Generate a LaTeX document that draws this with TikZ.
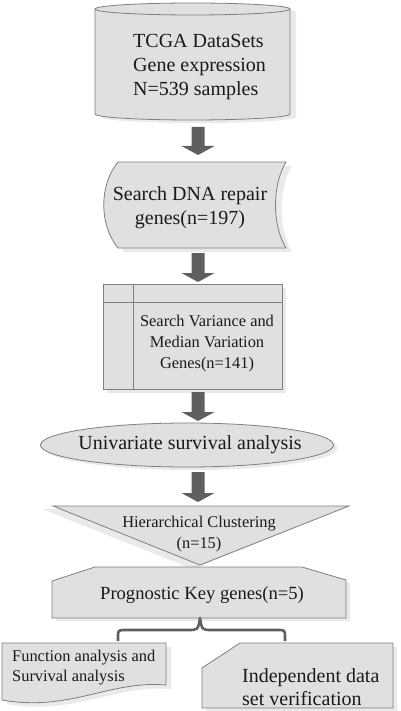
\documentclass[tikz,border=0pt]{standalone}
\usepackage{fontspec}
\setmainfont{Liberation Serif}
\usetikzlibrary{calc}
\definecolor{boxfill}{HTML}{E0E0E0}
\definecolor{shadowfill}{HTML}{EAEAEA}
\definecolor{edgegray}{HTML}{7F7F7F}
\definecolor{arrowfill}{HTML}{5F5F5F}
\definecolor{ink}{HTML}{1A1A1A}
\newcommand\blockarr[2]{\fill[arrowfill] ($(#1)+(-6.5,0)$) -- ($(#2)+(-6.5,9)$) -- ($(#2)+(-16.5,9)$) -- (#2) -- ($(#2)+(16.5,9)$) -- ($(#2)+(6.5,9)$) -- ($(#1)+(6.5,0)$) -- cycle;}
\begin{document}
\begin{tikzpicture}[x=1pt,y=1pt,
  box/.style={fill=boxfill, draw=edgegray, line width=0.8pt},
  shadowbox/.style={fill=shadowfill},
  txt/.style={text=ink, inner sep=0pt},
  big/.style={font=\fontsize{20}{24}\selectfont},
  mid/.style={font=\fontsize{16.4}{21}\selectfont}]
\useasboundingbox[fill=white] (0,0) rectangle (400,-711);

% 1 cylinder
\fill[shadowbox] (101,-12) -- (101,-117) arc[start angle=180,end angle=360,x radius=97.5,y radius=6] -- (296,-12) arc[start angle=0,end angle=180,x radius=97.5,y radius=6] -- cycle;
\filldraw[box] (95,-9) -- (95,-114) arc[start angle=180,end angle=360,x radius=97.5,y radius=6] -- (290,-9) arc[start angle=0,end angle=180,x radius=97.5,y radius=6] -- cycle;
\draw[draw=edgegray, line width=0.8pt] (95,-9) arc[start angle=180,end angle=360,x radius=97.5,y radius=6];
\node[txt, big, anchor=west, align=left] (tcga) at (133,-67) {TCGA DataSets\\Gene expression\\N=539 samples};

% 2 stored data
\fill[shadowbox] (124,-166) -- (292,-166) .. controls (278,-189) and (278,-229) .. (292,-252) -- (124,-252) .. controls (105,-229) and (105,-189) .. (124,-166);
\filldraw[box] (118,-162) -- (286,-162) .. controls (272,-185) and (272,-225) .. (286,-248) -- (118,-248) .. controls (99,-225) and (99,-185) .. (118,-162) -- cycle;
\node[txt, big, align=center] (dna) at (190,-208) {Search DNA repair\\genes(n=197)};

% 3 internal storage
\fill[shadowbox] (107,-288) rectangle (286,-393);
\filldraw[box] (103,-284) rectangle (282,-389);
\draw[draw=edgegray, line width=0.8pt] (133,-284) -- (133,-389) (103,-302) -- (282,-302);
\node[txt, mid, align=center] (var) at (207,-344) {Search Variance and\\Median Variation\\Genes(n=141)};

% 4 ellipse
\fill[shadowbox] (191,-448) ellipse[x radius=146.5, y radius=22];
\filldraw[box] (187,-445) ellipse[x radius=146.5, y radius=22];
\node[txt, big] (uni) at (190,-445) {Univariate survival analysis};

% 5 merge triangle
\fill[shadowbox] (42,-509) -- (340,-509) -- (193,-569) -- cycle;
\filldraw[box] (53,-506) -- (349,-506) -- (200,-565) -- cycle;
\node[txt, mid, align=center] (hc) at (199,-534) {Hierarchical Clustering\\(n=15)};

% 6 prognostic
\fill[shadowbox] (56,-584) -- (99,-570) -- (306,-570) -- (350,-583) -- (350,-621) -- (56,-621) -- cycle;
\filldraw[box] (52,-581) -- (95,-567) -- (302,-567) -- (346,-580) -- (346,-618) -- (52,-618) -- cycle;
\node[txt, font=\fontsize{18.6}{22}\selectfont] (prog) at (202,-595) {Prognostic Key genes(n=5)};

% brace
\coordinate (bl) at (118,-641);
\coordinate (bc) at (200,-618);
\coordinate (br) at (285,-641);
\draw[draw=arrowfill, line width=2.6pt, line join=round] (bl) -- (118,-637) .. controls (118,-630) .. (126,-630) -- (188,-630) .. controls (198,-630) .. (bc) .. controls (202,-630) .. (212,-630) -- (277,-630) .. controls (285,-630) .. (285,-637) -- (br);

% 7 document
\fill[shadowbox] (7,-647) -- (171,-647) -- (171,-689) .. controls (115,-684) and (75,-716) .. (7,-704) -- cycle;
\filldraw[box] (2,-643) -- (166,-643) -- (166,-685) .. controls (110,-680) and (70,-712) .. (2,-700) -- cycle;
\node[txt, mid, anchor=west, align=left, font=\fontsize{16.4}{20}\selectfont] (func) at (12,-668) {Function analysis and\\Survival analysis};

% 8 card
\fill[shadowbox] (206,-672) -- (244,-647) -- (397,-647) -- (397,-715) -- (206,-715) -- cycle;
\filldraw[box] (202,-668) -- (240,-643) -- (393,-643) -- (393,-708) -- (202,-708) -- cycle;
\node[txt, anchor=west, align=left, font=\fontsize{20}{23}\selectfont] (indep) at (242,-687) {Independent data\\set verification};

% block arrows
\coordinate (a1s) at (198,-127); \coordinate (a1e) at (198,-155);
\coordinate (a2s) at (198,-253); \coordinate (a2e) at (198,-282);
\coordinate (a3s) at (198,-392); \coordinate (a3e) at (198,-421);
\coordinate (a4s) at (198,-472); \coordinate (a4e) at (198,-502);
\blockarr{a1s}{a1e}
\blockarr{a2s}{a2e}
\blockarr{a3s}{a3e}
\blockarr{a4s}{a4e}
\end{tikzpicture}
\end{document}
